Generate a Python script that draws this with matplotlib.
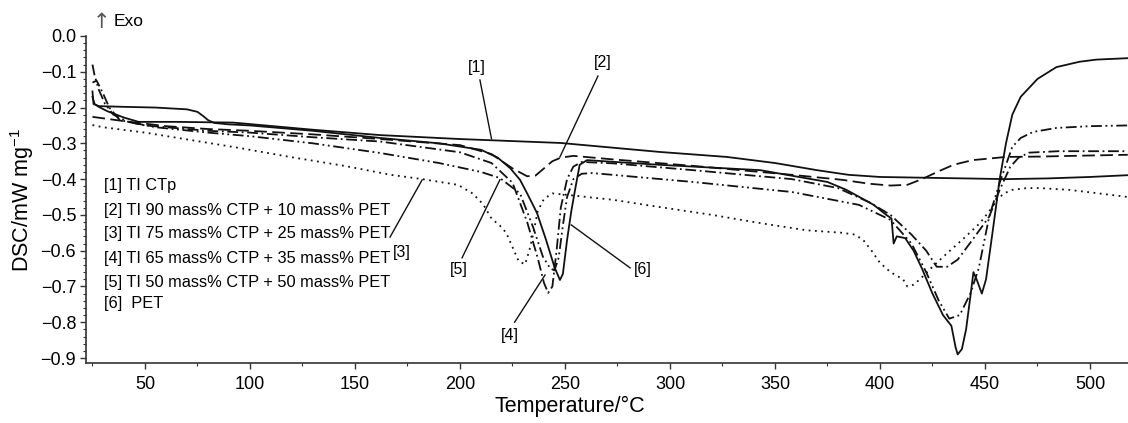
import matplotlib
matplotlib.use('Agg')
import matplotlib.pyplot as plt
from matplotlib.ticker import MultipleLocator

plt.rcParams['font.family'] = ['Liberation Sans', 'DejaVu Sans']

# Dados (temperatura em °C, DSC em mW/mg)
t1 = [25, 26, 28, 32, 40, 47, 65, 92, 130, 162, 200, 248, 295, 327, 350, 370,
      385, 400, 420, 440, 460, 480, 500, 518]
dsc1 = [-0.17, -0.19, -0.198, -0.21, -0.228, -0.24, -0.24, -0.242, -0.262, -0.277,
        -0.288, -0.299, -0.324, -0.338, -0.355, -0.375, -0.388, -0.394, -0.396,
        -0.398, -0.40, -0.398, -0.394, -0.389]

t2 = [25, 30, 40, 60, 80, 100, 130, 162, 200, 215, 225, 232, 236, 240, 244, 248,
      254, 273, 311, 358, 382, 395, 405, 413, 420, 428, 435, 444, 460, 476, 500, 518]
dsc2 = [-0.226, -0.23, -0.238, -0.252, -0.26, -0.265, -0.275, -0.288, -0.305,
        -0.33, -0.37, -0.392, -0.39, -0.37, -0.35, -0.34, -0.335, -0.345, -0.363,
        -0.388, -0.402, -0.413, -0.418, -0.416, -0.40, -0.378, -0.36, -0.347,
        -0.338, -0.337, -0.334, -0.332]

t3 = [25, 30, 50, 71, 95, 119, 145, 167, 182, 199, 206, 211, 215, 219, 222, 225,
      228, 231, 233, 235, 237, 240, 244, 251, 273, 295, 320, 343, 365, 382, 388,
      392, 396, 400, 405, 411, 413, 416, 419, 425, 432, 440, 447.6, 452, 455.7,
      459, 463, 470, 476, 490, 503, 518]
dsc3 = [-0.249, -0.255, -0.27, -0.29, -0.313, -0.338, -0.363, -0.388, -0.40,
        -0.416, -0.44, -0.47, -0.51, -0.53, -0.55, -0.59, -0.63, -0.638, -0.60,
        -0.55, -0.49, -0.455, -0.44, -0.444, -0.458, -0.478, -0.50, -0.523, -0.543,
        -0.55, -0.555, -0.57, -0.60, -0.634, -0.66, -0.68, -0.70, -0.695, -0.68,
        -0.645, -0.607, -0.565, -0.523, -0.49, -0.458, -0.44, -0.43, -0.425,
        -0.425, -0.43, -0.439, -0.45]

t4 = [25, 27, 30, 33, 38, 50, 80, 100, 130, 162, 200, 215, 225, 232, 237, 240,
      242, 244, 246, 248, 251, 254, 258, 273, 311, 358, 380, 395, 405, 415, 422,
      427, 432, 437, 444, 452, 457, 462, 466, 471, 485, 518]
dsc4 = [-0.13, -0.125, -0.16, -0.2, -0.235, -0.25, -0.265, -0.27, -0.283, -0.295,
        -0.325, -0.355, -0.41, -0.52, -0.62, -0.69, -0.718, -0.70, -0.60, -0.48,
        -0.40, -0.365, -0.352, -0.356, -0.375, -0.40, -0.425, -0.465, -0.50,
        -0.555, -0.60, -0.645, -0.645, -0.625, -0.57, -0.505, -0.43, -0.366,
        -0.34, -0.326, -0.322, -0.322]

t5 = [25, 26, 28, 31, 35, 42, 55, 80, 100, 130, 162, 190, 210, 219, 228.6, 234.8,
      239.5, 243, 245, 247, 249, 251, 254, 258, 263, 311, 358, 390, 405, 415, 422,
      428, 433, 438, 443, 447, 452, 457, 460, 463, 467, 473, 484, 500, 518]
dsc5 = [-0.08, -0.11, -0.15, -0.19, -0.22, -0.24, -0.255, -0.27, -0.28, -0.30,
        -0.327, -0.355, -0.38, -0.397, -0.44, -0.534, -0.617, -0.65, -0.655,
        -0.62, -0.53, -0.45, -0.40, -0.385, -0.383, -0.408, -0.436, -0.472,
        -0.514, -0.58, -0.66, -0.74, -0.79, -0.78, -0.72, -0.65, -0.505, -0.41,
        -0.36, -0.31, -0.285, -0.268, -0.257, -0.252, -0.25]

t6 = [25, 25.5, 28, 40, 55, 70, 75, 78, 80, 83, 90, 100, 130, 162, 190, 210, 218,
      224, 228.6, 232, 236.7, 241, 245, 247.6, 249, 251, 253, 254.8, 257, 260.5,
      295, 343, 375, 384, 397, 403, 405.5, 406.5, 408, 412, 416, 420, 425, 430,
      434, 436, 437, 439, 441, 443, 444.5, 446, 448.5, 450.5, 453.8, 457, 460,
      463, 467, 475, 484, 495, 503, 518]
dsc6 = [-0.155, -0.19, -0.196, -0.198, -0.2, -0.205, -0.212, -0.225, -0.235,
        -0.243, -0.247, -0.25, -0.265, -0.285, -0.30, -0.318, -0.34, -0.37,
        -0.402, -0.44, -0.495, -0.57, -0.646, -0.682, -0.665, -0.57, -0.49, -0.43,
        -0.36, -0.347, -0.36, -0.375, -0.408, -0.43, -0.472, -0.50, -0.51, -0.58,
        -0.56, -0.565, -0.60, -0.65, -0.72, -0.78, -0.81, -0.87, -0.89, -0.875,
        -0.82, -0.73, -0.66, -0.68, -0.72, -0.68, -0.54, -0.40, -0.30, -0.22,
        -0.17, -0.12, -0.087, -0.072, -0.066, -0.062]

legenda = ['[1] TI CTp',
           '[2] TI 90 mass% CTP + 10 mass% PET',
           '[3] TI 75 mass% CTP + 25 mass% PET',
           '[4] TI 65 mass% CTP + 35 mass% PET',
           '[5] TI 50 mass% CTP + 50 mass% PET',
           '[6]  PET']

estilos = ['-', (0, (7, 3)), (0, (1, 2.5)), (0, (6, 2, 1, 2)),
           (0, (6, 2, 1, 2, 1, 2)), '-']

fig = plt.figure(figsize=(11.28, 4.23), dpi=100)
ax = fig.add_axes([0.0762, 0.1418, 0.9238, 0.7731])

curvas = [(t1, dsc1), (t2, dsc2), (t3, dsc3), (t4, dsc4), (t5, dsc5), (t6, dsc6)]
for (t, d), ls in zip(curvas, estilos):
    ax.plot(t, d, color='#111111', lw=1.3, ls=ls)

ax.set_xlim(21.9, 518.1)
ax.set_ylim(-0.914, 0.0)
ax.xaxis.set_minor_locator(MultipleLocator(25))
ax.yaxis.set_major_locator(MultipleLocator(0.1))
ax.yaxis.set_minor_locator(MultipleLocator(0.02))
ax.set_xticks([50, 100, 150, 200, 250, 300, 350, 400, 450, 500])
ax.yaxis.set_major_formatter(matplotlib.ticker.FuncFormatter(
    lambda v, p: ('%.1f' % v).replace('-', '\u2212') if abs(v) > 1e-9 else '0.0'))
ax.tick_params(axis='both', which='major', labelsize=13, length=4, width=1,
               color='#333333')
ax.tick_params(axis='x', which='major', pad=5)
ax.tick_params(axis='y', which='major', pad=3)
ax.tick_params(axis='both', which='minor', length=2.5, width=0.8, color='#333333')
for lado in ['top', 'right']:
    ax.spines[lado].set_visible(False)
for lado in ['left', 'bottom']:
    ax.spines[lado].set_color('#333333')
    ax.spines[lado].set_linewidth(1.2)

# Textos da legenda escrita no gráfico
ys_leg = [185, 210, 233, 258, 282, 303]
for txt, yp in zip(legenda, ys_leg):
    fig.text(104 / 1128, 1 - yp / 423, txt, fontsize=11.8, va='center', ha='left')

# Rótulos com linhas de chamada
chamadas = [('[1]', (208, -0.089), (209.5, -0.123), (215, -0.287)),
            ('[2]', (268, -0.075), (265.7, -0.112), (247.6, -0.338)),
            ('[3]', (172.5, -0.606), (166.7, -0.562), (182, -0.402)),
            ('[5]', (199.5, -0.654), (201, -0.62), (219, -0.402)),
            ('[6]', (287, -0.654), (281, -0.648), (253, -0.528)),
            ('[4]', (224, -0.836), (226, -0.80), (240.5, -0.668))]
for rot, ptxt, p0, p1 in chamadas:
    ax.text(ptxt[0], ptxt[1], rot, fontsize=11.5, ha='center', va='center')
    ax.plot([p0[0], p1[0]], [p0[1], p1[1]], color='#111111', lw=1.0)

fig.text(93 / 1128, 1 - 22 / 423, '\u2191', fontsize=15, va='center', ha='left',
         color='#555555', family='DejaVu Sans')
fig.text(114 / 1128, 1 - 22 / 423, 'Exo', fontsize=12.5, va='center', ha='left')
fig.text(570 / 1128, 1 - 406 / 423, 'Temperature/\u00b0C', fontsize=15.5,
         ha='center', va='center')
fig.text(22 / 1128, 1 - 200 / 423, 'DSC/mW mg$^{\\mathregular{-1}}$', fontsize=15.5,
         ha='center', va='center', rotation=90)

fig.savefig('out.png', dpi=100)
